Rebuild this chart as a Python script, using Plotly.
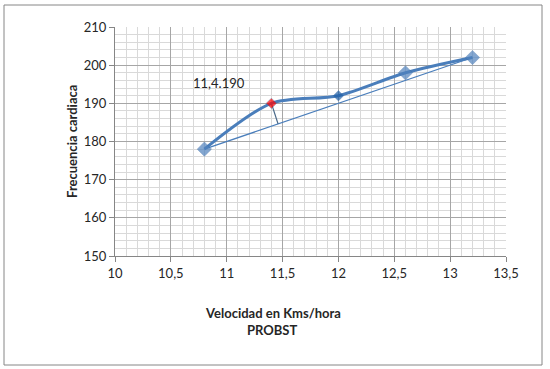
import plotly.graph_objects as go

# Data
velocidad = [10.8, 11.4, 12.0, 12.6, 13.2]
frecuencia = [178, 190, 192, 198, 202]
marker_colors = ["#4F81BD", "#FF0000", "#1F5FA8", "#4F81BD", "#4F81BD"]
marker_sizes = [11, 8, 8, 11, 11]

trend_x = [10.8, 13.2]
trend_y = [178, 202]

perp_x = [11.4, 11.46]
perp_y = [190, 184.6]

label_text = "11,4.190"
label_x = 10.93
label_y = 195.3

x_ticks = [10, 10.5, 11, 11.5, 12, 12.5, 13, 13.5]
x_tick_labels = ["10", "10,5", "11", "11,5", "12", "12,5", "13", "13,5"]
y_ticks = [150, 160, 170, 180, 190, 200, 210]

fig = go.Figure()

fig.add_trace(go.Scatter(x=trend_x, y=trend_y, mode="lines",
                         line=dict(color="#4A7EBB", width=1.2), hoverinfo="skip"))
fig.add_trace(go.Scatter(x=perp_x, y=perp_y, mode="lines",
                         line=dict(color="#4A6A8A", width=1.2), hoverinfo="skip"))
fig.add_trace(go.Scatter(x=velocidad, y=frecuencia, mode="lines",
                         line=dict(color="#4A7EBB", width=3, shape="spline", smoothing=0.8)))
fig.add_trace(go.Scatter(x=velocidad, y=frecuencia, mode="markers",
                         marker=dict(symbol="diamond", size=marker_sizes, color=marker_colors,
                                     line=dict(color="#3A6AA5", width=0.5))))

fig.add_annotation(x=label_x, y=label_y, text=label_text, showarrow=False,
                   font=dict(family="Lato, Open Sans, sans-serif", size=13, color="#262626"))

font_fam = "Lato, Open Sans, sans-serif"
fig.update_layout(
    width=550, height=369,
    margin=dict(l=115, r=44, t=27, b=113),
    paper_bgcolor="white", plot_bgcolor="white",
    showlegend=False,
    xaxis=dict(range=[10, 13.5], tickvals=x_ticks, ticktext=x_tick_labels,
               showgrid=True, gridcolor="#A6A6A6", gridwidth=1,
               minor=dict(dtick=0.1, showgrid=True, gridcolor="#D9D9D9", gridwidth=1,
                          ticks=""),
               showline=True, linecolor="#868686", linewidth=1,
               ticks="outside", ticklen=5, tickcolor="#868686",
               tickfont=dict(family=font_fam, size=13, color="#262626"),
               zeroline=False),
    yaxis=dict(range=[150, 210], tickvals=y_ticks,
               showgrid=True, gridcolor="#A6A6A6", gridwidth=1,
               minor=dict(dtick=2, showgrid=True, gridcolor="#D9D9D9", gridwidth=1,
                          ticks=""),
               showline=True, linecolor="#868686", linewidth=1,
               ticks="outside", ticklen=5, tickcolor="#868686",
               tickfont=dict(family=font_fam, size=13, color="#262626"),
               zeroline=False),
)

# Axis titles (positioned like the original)
fig.add_annotation(xref="paper", yref="paper", x=-0.137, y=0.5,
                   text="<b>Frecuencia cardiaca</b>", textangle=-90, showarrow=False,
                   font=dict(family=font_fam, size=13, color="#262626"))
fig.add_annotation(xref="paper", yref="paper", x=(273 - 115) / 391, y=-(323 - 256) / 229,
                   text="<b>Velocidad en Kms/hora</b>", showarrow=False,
                   font=dict(family=font_fam, size=13, color="#262626"))
fig.add_annotation(xref="paper", yref="paper", x=(272 - 115) / 391, y=-(340 - 256) / 229,
                   text="<b>PROBST</b>", showarrow=False,
                   font=dict(family=font_fam, size=13, color="#262626"))

# Outer chart border
fig.add_shape(type="rect", xref="paper", yref="paper",
              x0=(4 - 115) / 391, x1=(542 - 115) / 391,
              y0=-(365 - 256) / 229, y1=(256 - 5) / 229,
              line=dict(color="#868686", width=1), layer="below")

fig.write_html("out.html")
